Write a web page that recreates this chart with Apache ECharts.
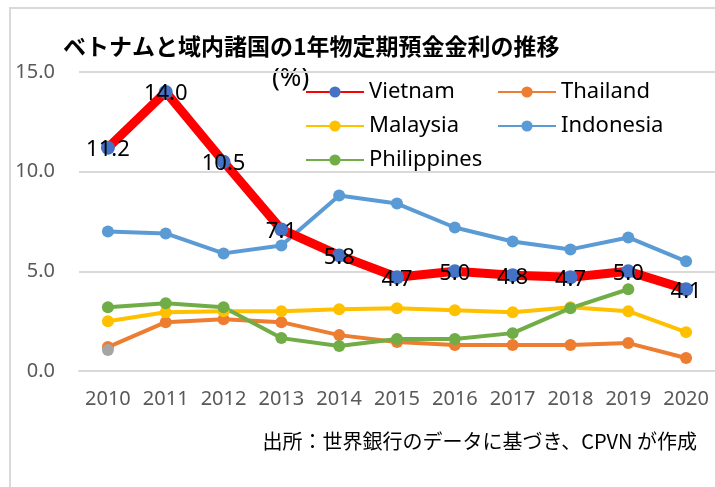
<!DOCTYPE html>
<html>
<head>
<meta charset="utf-8">
<script src="https://cdn.jsdelivr.net/npm/echarts@6/dist/echarts.min.js"></script>
<style>
  html, body { margin: 0; padding: 0; background: #fff; }
  #frame { position: absolute; left: 9px; top: 7px; width: 720px; height: 490px;
           border-left: 2px solid #d9d9d9; border-top: 2px solid #d9d9d9; }
  #chart { position: absolute; left: 0; top: 0; width: 715px; height: 487px; }
</style>
</head>
<body>
<div id="frame"></div>
<div id="chart"></div>
<script>
const years = ['2010', '2011', '2012', '2013', '2014', '2015', '2016', '2017', '2018', '2019', '2020'];
const vietnam = [11.2, 14.0, 10.5, 7.1, 5.8, 4.7, 5.0, 4.8, 4.7, 5.0, 4.1];
const thailand = [1.2, 2.45, 2.6, 2.45, 1.8, 1.45, 1.3, 1.3, 1.3, 1.4, 0.65];
const malaysia = [2.5, 2.95, 3.0, 3.0, 3.1, 3.15, 3.05, 2.95, 3.2, 3.0, 1.95];
const indonesia = [7.0, 6.9, 5.9, 6.3, 8.8, 8.4, 7.2, 6.5, 6.1, 6.7, 5.5];
const philippines = [3.2, 3.4, 3.2, 1.65, 1.25, 1.6, 1.6, 1.9, 3.15, 4.1, null];
const other = [1.05, null, null, null, null, null, null, null, null, null, null];

const numFont = '"Noto Sans", "Open Sans", sans-serif';
const jpFont = '"Noto Sans CJK JP", sans-serif';

function thinLine(name, data, color) {
  return {
    name: name,
    type: 'line',
    data: data,
    symbol: 'circle',
    symbolSize: 12,
    lineStyle: { color: color, width: 4 },
    itemStyle: { color: color },
    z: 2
  };
}

const chart = echarts.init(document.getElementById('chart'));
chart.setOption({
  animation: false,
  textStyle: { fontFamily: numFont },
  title: {
    text: 'ベトナムと域内諸国の1年物定期預金金利の推移',
    left: 58,
    top: 30,
    textStyle: { fontFamily: jpFont, fontSize: 23, fontWeight: 'bold', color: '#000' }
  },
  grid: { left: 79, right: 0, top: 72, bottom: 116 },
  legend: [
    {
      data: ['Vietnam', 'Malaysia', 'Philippines'],
      orient: 'vertical',
      left: 300, top: 76,
      itemWidth: 58, itemHeight: 14, itemGap: 12,
      textStyle: { fontSize: 22, color: '#000', fontFamily: numFont }
    },
    {
      data: ['Thailand', 'Indonesia'],
      orient: 'vertical',
      left: 492, top: 76,
      itemWidth: 58, itemHeight: 14, itemGap: 12,
      textStyle: { fontSize: 22, color: '#000', fontFamily: numFont }
    }
  ],
  graphic: [
    {
      type: 'text', left: 272, top: 66,
      style: { text: '(%)', fontSize: 26, fill: '#000', fontFamily: numFont }
    },
    {
      type: 'text', right: 18, top: 431,
      style: { text: '出所：世界銀行のデータに基づき、CPVN が作成', fontSize: 20, fill: '#000', fontFamily: jpFont }
    }
  ],
  xAxis: {
    type: 'category',
    data: years,
    boundaryGap: true,
    axisLine: { lineStyle: { color: '#d9d9d9', width: 2 } },
    axisTick: { show: false },
    axisLabel: { interval: 0, color: '#595959', fontSize: 20, margin: 18, fontFamily: numFont }
  },
  yAxis: {
    type: 'value',
    min: 0, max: 15, interval: 5,
    axisLine: { show: false },
    axisTick: { show: false },
    splitLine: { lineStyle: { color: '#d9d9d9', width: 2 } },
    axisLabel: {
      color: '#595959', fontSize: 20, margin: 24, fontFamily: numFont,
      formatter: v => v.toFixed(1)
    }
  },
  series: [
    thinLine('Indonesia', indonesia, '#5B9BD5'),
    thinLine('Thailand', thailand, '#ED7D31'),
    thinLine('Malaysia', malaysia, '#FFC000'),
    thinLine('Philippines', philippines, '#70AD47'),
    thinLine('Other', other, '#A5A5A5'),
    {
      name: 'Vietnam',
      type: 'line',
      data: vietnam,
      symbol: 'circle',
      symbolSize: 14,
      lineStyle: { color: '#FF0000', width: 9 },
      itemStyle: { color: '#4472C4' },
      z: 5,
      label: {
        show: true,
        position: 'inside',
        offset: [0, 2],
        color: '#000',
        fontSize: 22,
        fontFamily: numFont,
        formatter: p => p.value.toFixed(1)
      }
    }
  ]
});
</script>
</body>
</html>
